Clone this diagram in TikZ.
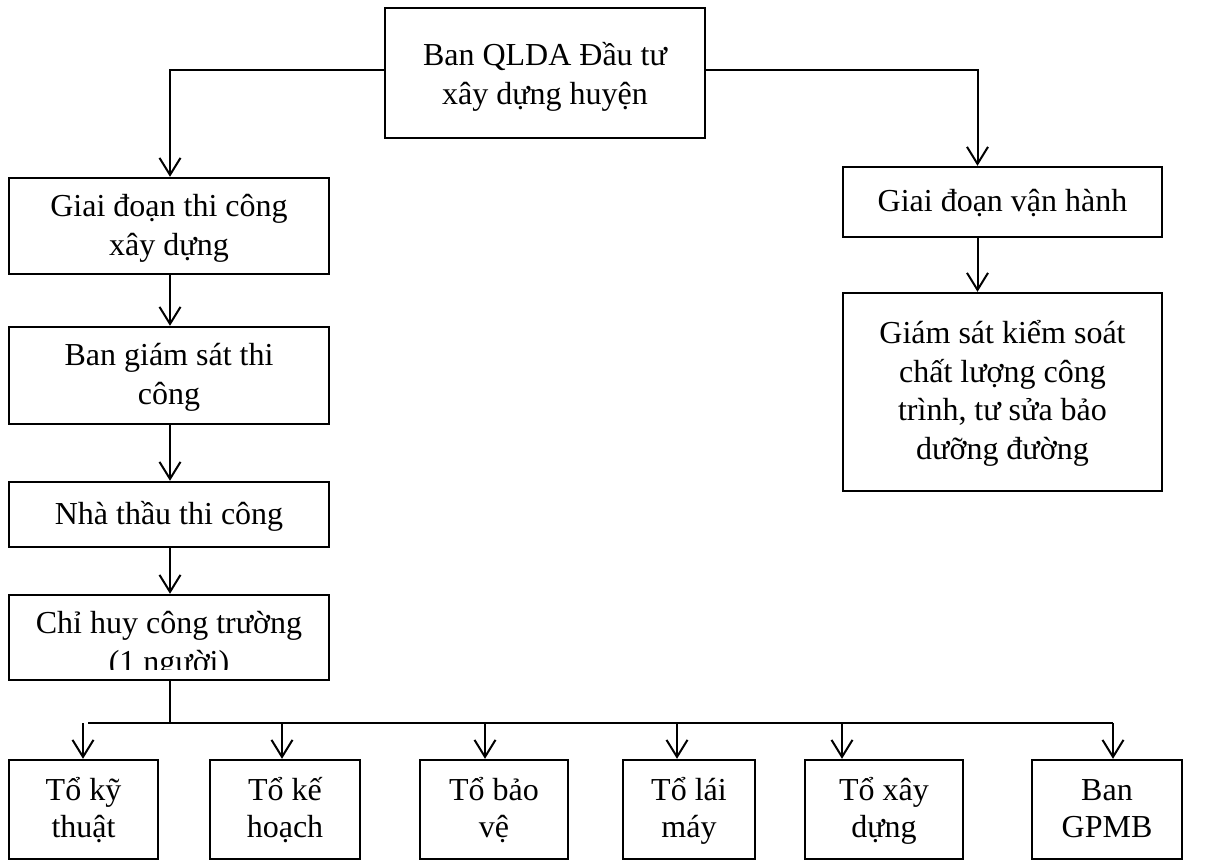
\documentclass[tikz,border=0pt]{standalone}
\usepackage{fontspec}
\setmainfont{Liberation Serif}
\usetikzlibrary{arrows.meta}
\newcommand\sr{\rule[-9pt]{0pt}{37pt}}
\begin{document}
\begin{tikzpicture}[x=1pt,y=-1pt,
  box/.style={draw,line width=2.4pt,rectangle,inner sep=0pt,align=center,
    font=\fontsize{32}{39}\selectfont},
  small/.style={font=\fontsize{32}{37.5}\selectfont},
  conn/.style={line width=2pt},
  arr/.style={line width=2pt,-{Straight Barb[length=17pt,width=21pt,line width=2pt]}}]
\useasboundingbox (0,0) rectangle (1205,861);
% top
\node[box,minimum width=320,minimum height=130] (top) at (545,73) {\sr\rule{0pt}{34pt}Ban QLDA Đầu tư\\\sr xây dựng huyện};
% left column
\node[box,minimum width=320,minimum height=96] (L1) at (169,226) {\sr Giai đoạn thi công\\\sr xây dựng};
\node[box,minimum width=320,minimum height=97] (L2) at (169,375.5) {\sr Ban giám sát thi\\\sr công};
\node[box,minimum width=320,minimum height=65] (L3) at (169,514.5) {\sr Nhà thầu thi công};
\node[box,minimum width=320,minimum height=85] (L4) at (169,637.5) {};
\begin{scope}
\clip (11,597) rectangle (327,669);
\node[anchor=base,align=center,inner sep=0pt,font=\fontsize{32}{39}\selectfont] (L4t) at (169,672) {Chỉ huy công trường\\(1 người)};
\end{scope}
% right column
\node[box,minimum width=319,minimum height=70] (R1) at (1002.5,202) {\sr Giai đoạn vận hành};
\node[box,minimum width=319,minimum height=198,font=\fontsize{32}{38.5}\selectfont] (R2) at (1002.5,392) {\sr Giám sát kiểm soát\\\sr chất lượng công\\\sr trình, tư sửa bảo\\\sr dưỡng đường};
% bottom row
\node[box,small,minimum width=149,minimum height=99] (B1) at (83.5,809.5) {\sr Tổ kỹ\\\sr thuật};
\node[box,small,minimum width=150,minimum height=99] (B2) at (285,809.5) {\sr Tổ kế\\\sr hoạch};
\node[box,small,minimum width=148,minimum height=99] (B3) at (494,809.5) {\sr Tổ bảo\\\sr vệ};
\node[box,small,minimum width=132,minimum height=99] (B4) at (689,809.5) {\sr Tổ lái\\\sr máy};
\node[box,small,minimum width=158,minimum height=99] (B5) at (884,809.5) {\sr Tổ xây\\\sr dựng};
\node[box,small,minimum width=150,minimum height=99] (B6) at (1107,809.5) {\sr Ban\\\sr GPMB};
% connectors
\draw[arr] ([yshift=3pt]top.west) -| ([xshift=1pt]L1.north);
\draw[arr] ([yshift=3pt]top.east) -| ([xshift=-25pt]R1.north);
\draw[arr] ([xshift=1pt]L1.south) -- ([xshift=1pt]L2.north);
\draw[arr] ([xshift=1pt]L2.south) -- ([xshift=1pt]L3.north);
\draw[arr] ([xshift=1pt]L3.south) -- ([xshift=1pt]L4.north);
\draw[arr] ([xshift=-25pt]R1.south) -- ([xshift=-25pt]R2.north);
\coordinate (bus) at (170,723);
\draw[conn] ([xshift=1pt]L4.south) -- (bus);
\draw[conn] ([xshift=4.5pt]B1.north |- bus) -- ([xshift=6pt]B6.north |- bus);
\draw[arr] ([xshift=-0.5pt]B1.north |- bus) -- ([xshift=-0.5pt]B1.north);
\draw[arr] ([xshift=-3pt]B2.north |- bus) -- ([xshift=-3pt]B2.north);
\draw[arr] ([xshift=-9pt]B3.north |- bus) -- ([xshift=-9pt]B3.north);
\draw[arr] ([xshift=-12pt]B4.north |- bus) -- ([xshift=-12pt]B4.north);
\draw[arr] ([xshift=-42pt]B5.north |- bus) -- ([xshift=-42pt]B5.north);
\draw[arr] ([xshift=6pt]B6.north |- bus) -- ([xshift=6pt]B6.north);
\end{tikzpicture}
\end{document}
